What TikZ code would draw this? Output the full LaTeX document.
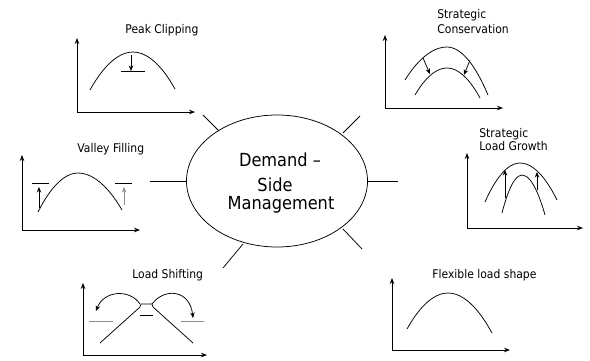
\documentclass[tikz,border=0pt]{standalone}
\usepackage{fontspec}
\setmainfont{DejaVu Sans}[FakeStretch=0.9]
\usetikzlibrary{arrows.meta,shapes.geometric}
\begin{document}
\begin{tikzpicture}[x=1pt,y=-1pt, line width=0.75pt,
 ax/.style={{Stealth[length=6pt,width=4.5pt]}-{Stealth[length=6pt,width=4.5pt]}},
 tip/.style={-{Stealth[length=5.5pt,width=4.5pt]}},
 lbl/.style={font=\fontsize{12}{14}\selectfont, inner sep=0, anchor=base west},
 big/.style={font=\fontsize{18}{20}\selectfont, inner sep=0, anchor=base},
 gr/.style={draw=black!45}]
\useasboundingbox (0,0) rectangle (590,360);

% central ellipse
\node[draw, ellipse, minimum width=181pt, minimum height=132pt, inner sep=0] (dsm) at (277,181) {};
\node[big] (t1) at (280,166) {Demand –};
\node[big] (t2) at (275,191) {Side};
\node[big] (t3) at (281,209) {Management};

% spokes
\coordinate (ula) at (203,115); \coordinate (ulb) at (219,131);
\coordinate (ura) at (360,116); \coordinate (urb) at (343,133);
\coordinate (la) at (150,181); \coordinate (lb) at (187,181);
\coordinate (ra) at (398,181); \coordinate (rb) at (368,181);
\coordinate (lra) at (362,249); \coordinate (lrb) at (343,229);
\coordinate (lla) at (223,268); \coordinate (llb) at (243,244);
\draw (ula) -- (ulb); \draw (ura) -- (urb); \draw (la) -- (lb);
\draw (ra) -- (rb); \draw (lra) -- (lrb); \draw (lla) -- (llb);

% Peak Clipping
\node[lbl] (pc) at (125,33) {Peak Clipping};
\draw[ax] (77,38) |- (195,112);
\draw (90,90) parabola bend (133,52) (175,89);
\draw (121,71) -- (145,71);
\draw[tip] (131,55) -- (131,71);

% Strategic Conservation
\node[lbl] (sc1) at (437,18) {Strategic};
\node[lbl] (sc2) at (437,33) {Conservation};
\draw[ax] (385,35) |- (503,108);
\draw (405,80) parabola bend (447,47) (488,95);
\draw (415,95) parabola bend (447,68) (480,98);
\draw[tip] (423,58) -- (430,74);
\draw[tip] (470,60) -- (464,75);

% Valley Filling
\node[lbl] (vf) at (77,152) {Valley Filling};
\draw[ax] (22,155) |- (140,230);
\draw (38,212) parabola bend (78,173) (122,210);
\draw (32,183) -- (49,183);
\draw (115,183) -- (132,183);
\draw[tip] (39,208) -- (39,187);
\draw[tip, gr] (124,205) -- (124,187);

% Strategic Load Growth
\node[lbl] (sg1) at (479,137) {Strategic};
\node[lbl] (sg2) at (479,150) {Load Growth};
\draw[ax] (467,153) |- (583,228);
\draw (485,202) parabola bend (520,163) (557,200);
\draw (502,213) parabola bend (522,175) (545,215);
\draw[tip] (505,198) -- (505,170);
\draw[tip] (537,190) -- (537,172);

% Load Shifting
\node[lbl] (ls) at (132,278) {Load Shifting};
\draw[ax] (83,283) |- (207,355);
\draw (100,343) -- (140,307) -- (141,304) -- (152,304) -- (153,307) -- (193,343);
\draw (140,315) -- (153,315);
\draw[gr] (89,321) -- (113,321);
\draw[gr] (181,321) -- (204,321);
\draw[tip] (140,304) .. controls (130,289) and (104,290) .. (96,311);
\draw[tip] (152,304) .. controls (165,287) and (190,290) .. (193,318);

% Flexible load shape
\node[lbl] (fl) at (432,278) {Flexible load shape};
\draw[ax] (392,278) |- (510,350);
\draw (407,329) parabola bend (448,293) (492,333);
\end{tikzpicture}
\end{document}
